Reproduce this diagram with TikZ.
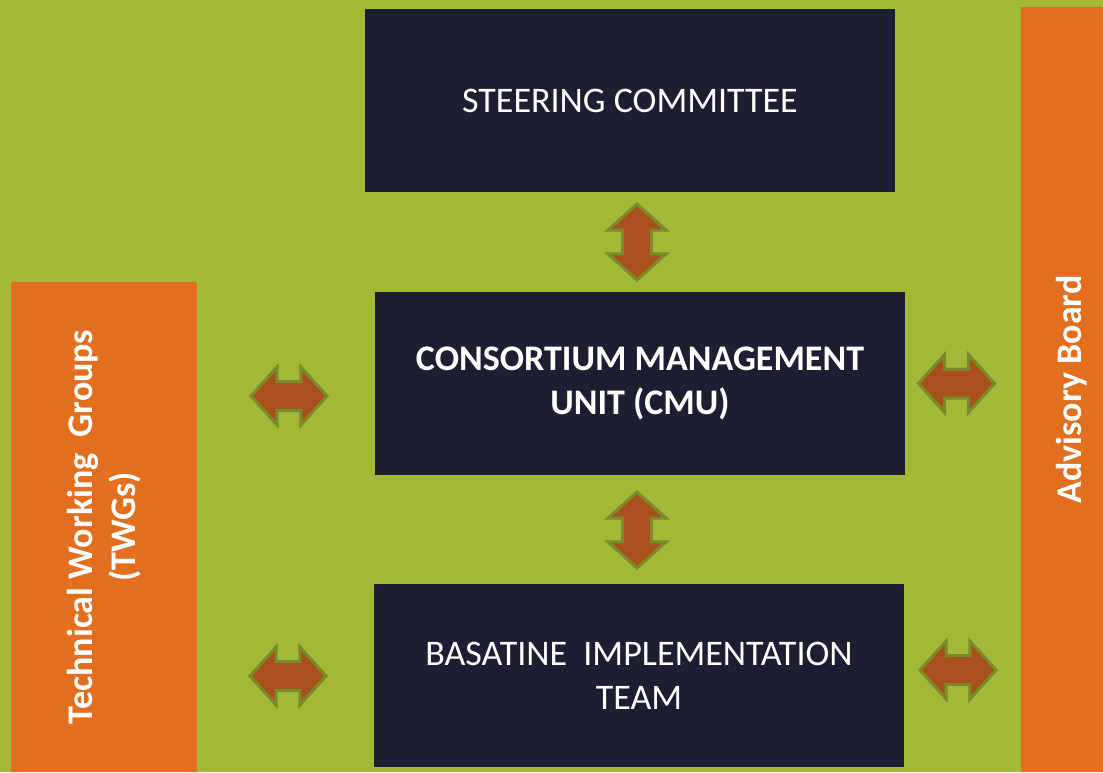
\documentclass[tikz,border=0pt]{standalone}
\usepackage{fontspec}
\setmainfont{Carlito}
\usetikzlibrary{shapes.arrows}
\definecolor{bggreen}{HTML}{A4B838}
\definecolor{boxnavy}{HTML}{1E1E33}
\definecolor{sideorange}{HTML}{E36E1E}
\definecolor{arrowbrown}{HTML}{A9501D}
\definecolor{arrowedge}{HTML}{7A8B2A}
\tikzstyle{unit}=[fill=boxnavy, text=white, align=center, inner sep=0, minimum width=265pt, minimum height=91.5pt, font=\fontsize{18}{22pt}\selectfont]
\tikzstyle{side}=[fill=sideorange, text=white, align=center, inner sep=0, rotate=90, font=\bfseries\fontsize{18}{21.5pt}\selectfont]
\tikzstyle{link}=[double arrow, fill=arrowbrown, draw=arrowedge, line width=1.5pt, inner xsep=0, inner ysep=6.5pt, minimum height=38pt, minimum width=27.5pt, double arrow head extend=7.25pt, double arrow tip angle=96]

\begin{document}
\begin{tikzpicture}[x=0.5pt, y=-0.5pt]

\fill [bggreen] (0, 0) rectangle (1103, 772);
\useasboundingbox (0, 0) rectangle (1103, 772);

\node [unit] (sc)  at (630, 100.5) {STEERING COMMITTEE};
\node [unit] (cmu) at (640, 383.5) {\bfseries CONSORTIUM MANAGEMENT\\\bfseries UNIT (CMU)};
\node [unit] (bit) at (639, 675.5) {BASATINE\ \ IMPLEMENTATION\\TEAM};

\node [side, minimum width=245pt, minimum height=93pt] (twg) at (104, 527) {Technical Working\ \ Groups\\(TWGs)};
\node [side, minimum width=382.5pt, minimum height=51pt] (ab) at (1072, 389.5) {Advisory Board};

\node [link, rotate=90] (sc-cmu)  at (637, 242) {};
\node [link, rotate=90] (cmu-bit) at (637, 530) {};

\node [link] (twg-cmu) at (289, 396) {};
\node [link] (cmu-ab)  at (956.5, 383.5) {};
\node [link] (twg-bit) at (288, 676) {};
\node [link] (bit-ab)  at (958, 670) {};

\end{tikzpicture}
\end{document}
